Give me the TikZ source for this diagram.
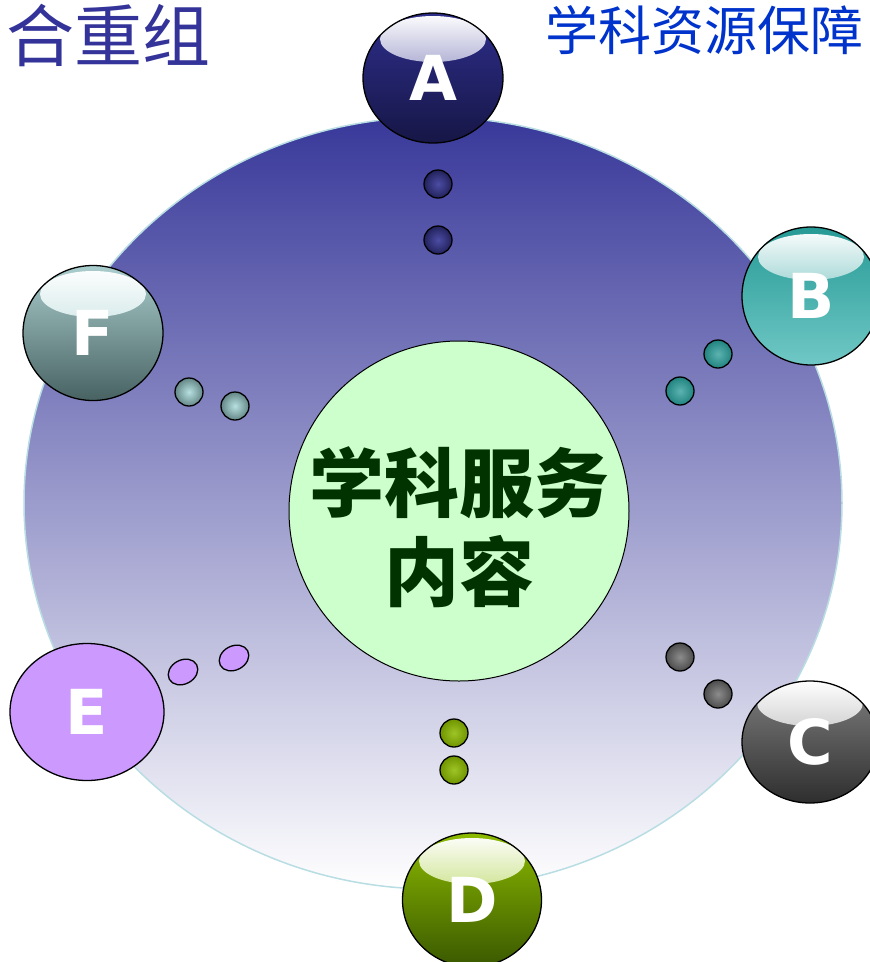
\documentclass[tikz,border=0pt]{standalone}
\usepackage{fontspec}
\newfontfamily\cjk{Noto Sans CJK SC}
\newfontfamily\ballfont{DejaVu Sans}
\usetikzlibrary{shapes,positioning}
\definecolor{ringtop}{HTML}{38389A}
\definecolor{ringmid}{HTML}{B4B4CE}
\definecolor{ringedge}{HTML}{B8DDE3}
\definecolor{corefill}{HTML}{CCFFCC}
\definecolor{coretext}{HTML}{003300}
\definecolor{headblue}{HTML}{333399}
\definecolor{headlink}{HTML}{0033CC}
\definecolor{atop}{HTML}{2E2E8C}
\definecolor{abot}{HTML}{161646}
\definecolor{aglow}{HTML}{3C3C96}
\definecolor{btop}{HTML}{269A96}
\definecolor{bbot}{HTML}{70C8C5}
\definecolor{bglow}{HTML}{28A09C}
\definecolor{dtop}{HTML}{8CBA00}
\definecolor{dbot}{HTML}{3A5800}
\definecolor{dglow}{HTML}{8CBE00}
\definecolor{efill}{HTML}{CC99FF}
\definecolor{ftop}{HTML}{AACDCD}
\definecolor{fbot}{HTML}{486262}
\definecolor{fglow}{HTML}{A0CDCD}
\definecolor{fdotin}{HTML}{B8E0E0}
\definecolor{fdotout}{HTML}{648787}
\tikzstyle{ring}  = [draw=ringedge, line width=1.5pt, ellipse, minimum width=818pt, minimum height=772pt, top color=ringtop, middle color=ringmid, bottom color=white]
\tikzstyle{core}  = [draw, circle, line width=1pt, fill=corefill, minimum size=340pt]
\tikzstyle{title} = [align=center, text=coretext, font=\cjk\bfseries\fontsize{75}{89}\selectfont]
\tikzstyle{ball}  = [draw, ellipse, line width=1.3pt, minimum width=140pt, minimum height=134pt, inner sep=0pt, text=white, font=\ballfont\bfseries\fontsize{62}{62}\selectfont]
\tikzstyle{dot}   = [draw, circle, line width=1.3pt, minimum size=28pt, inner sep=0pt]
\tikzstyle{head}  = [inner sep=0pt, font=\cjk]
\tikzset{gloss/.style={path picture={\shade[top color=white, bottom color=#1] ([yshift=39pt]path picture bounding box.center) ellipse (53pt and 23pt);}}}
\tikzstyle{dota} = [dot, inner color=ringtop!90!white, outer color=ringtop!60!black]
\tikzstyle{dotb} = [dot, inner color=btop!75!white, outer color=btop!85!black]
\tikzstyle{dotc} = [dot, inner color=black!45, outer color=black!70]
\tikzstyle{dotd} = [dot, inner color=dtop!85!white, outer color=dtop!80!black]
\tikzstyle{dote} = [draw, ellipse, line width=1.3pt, minimum width=31pt, minimum height=24pt, inner sep=0pt, fill=efill, rotate=28]
\tikzstyle{dotf} = [dot, inner color=fdotin, outer color=fdotout]

\begin{document}
\begin{tikzpicture}[x=1pt, y=-1pt]
	\useasboundingbox (0,0) rectangle (870,962);
	% Heading %
	\node [head, anchor=base east, text=headblue, font=\cjk\fontsize{68}{68}\selectfont] (left head) at (211,61) {合重组};
	\node [head, anchor=base west, text=headlink, font=\cjk\fontsize{53}{53}\selectfont] (right head) at (545,50) {学科资源保障};
	% Ring Setting %
	\node [ring] (ring) at (433,503) {};
	\node [core] (core) at (459,511) {};
	\node [title, below of = core, node distance=16pt] (title) {学科服务\\内容};
	% Ball Setting %
	\node [ball, minimum height=130pt, top color=atop, bottom color=abot, gloss=aglow] (a) at (433,78) {A};
	\node [ball, minimum width=138pt, minimum height=138pt, top color=btop, bottom color=bbot, gloss=bglow] (b) at (811,296) {B};
	\node [ball, minimum width=136pt, minimum height=122pt, top color=black!50, bottom color=black!82, gloss=black!45] (c) at (810,742) {C};
	\node [ball, minimum width=139pt, top color=dtop, bottom color=dbot, gloss=dglow] (d) at (472,900) {D};
	\node [ball, minimum width=154pt, minimum height=137pt, fill=efill] (e) at (87,712) {E};
	\node [ball, minimum height=135pt, top color=ftop, bottom color=fbot, gloss=fglow] (f) at (93,333) {F};
	% Dot Setting %
	\node [dota, below of = a, node distance=106pt, xshift=5pt] (a1) {};
	\node [dota, below of = a1, node distance=56pt] (a2) {};
	\node [dotb, left of = b, node distance=93pt, yshift=-58pt] (b1) {};
	\node [dotb, left of = b1, node distance=38pt, yshift=-37pt] (b2) {};
	\node [dotc, left of = c, node distance=92pt, yshift=48pt] (c1) {};
	\node [dotc, left of = c1, node distance=38pt, yshift=37pt] (c2) {};
	\node [dotd, above of = d, node distance=130pt, xshift=-18pt] (d1) {};
	\node [dotd, above of = d1, node distance=37pt] (d2) {};
	\node [dote] (e1) at ([xshift=96pt, yshift=40pt]e.center) {};
	\node [dote] (e2) at ([xshift=51pt, yshift=14pt]e1.center) {};
	\node [dotf, right of = f, node distance=96pt, yshift=-59pt] (f1) {};
	\node [dotf, right of = f1, node distance=46pt, yshift=-14pt] (f2) {};
\end{tikzpicture}
\end{document}
